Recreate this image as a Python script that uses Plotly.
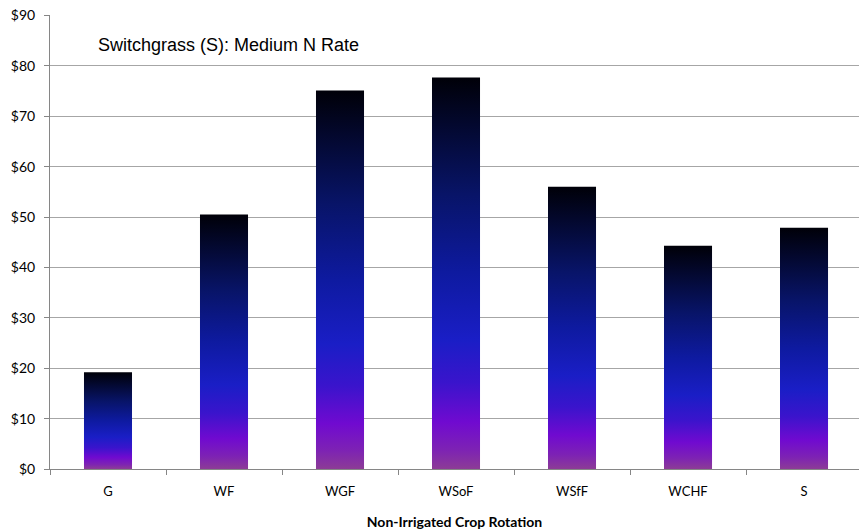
import plotly.graph_objects as go

categories = ["G", "WF", "WGF", "WSoF", "WSfF", "WCHF", "S"]
values = [19.2, 50.5, 75.1, 77.7, 56.0, 44.3, 47.9]
y_ticks = [0, 10, 20, 30, 40, 50, 60, 70, 80, 90]
y_tick_labels = ["$" + str(v) for v in y_ticks]

title_text = "Switchgrass (S): Medium N Rate"
x_title = "Non-Irrigated Crop Rotation"

grad = [[0.0, "#8c3c96"], [0.05, "#7d22b4"], [0.12, "#700ad0"], [0.22, "#3a14cc"],
        [0.33, "#1a1ec6"], [0.5, "#0e1aa0"], [0.7, "#081468"], [0.85, "#040a38"],
        [1.0, "#000008"]]

half = 0.207
fig = go.Figure()
for i, (c, v) in enumerate(zip(categories, values)):
    fig.add_trace(go.Scatter(
        x=[i - half, i + half, i + half, i - half, i - half],
        y=[0, 0, v, v, 0],
        mode="lines", line=dict(width=0), fill="toself",
        fillgradient=dict(type="vertical", colorscale=grad, start=0, stop=v),
        hoverinfo="text", text=f"{c}: ${v}", showlegend=False,
    ))

fig.add_annotation(text=title_text, xref="paper", yref="paper", x=0.0568, y=0.934,
                   xanchor="left", yanchor="middle", showarrow=False,
                   font=dict(family="Liberation Sans, Arial", size=18, color="#000000"))

fig.update_layout(
    width=859, height=530,
    margin=dict(l=50, r=0, t=15, b=61),
    plot_bgcolor="white", paper_bgcolor="white",
    xaxis=dict(
        range=[-0.5, 6.474], tickvals=list(range(len(categories))), ticktext=categories,
        ticks="", showgrid=False, zeroline=False, automargin=False,
        showline=True, linecolor="#868686", linewidth=1, ticklabelstandoff=10,
        tickfont=dict(family="Lato, Carlito, Calibri", size=13, color="#000000"),
        minor=dict(tickvals=[k - 0.5 for k in range(len(categories) + 1)], ticks="outside",
                   ticklen=5, tickcolor="#868686", showgrid=False),
        title=dict(text="<b>" + x_title + "</b>", standoff=20,
                   font=dict(family="Lato, Carlito, Calibri", size=14, color="#000000")),
    ),
    yaxis=dict(
        range=[0, 90.1], tickvals=y_ticks, ticktext=y_tick_labels, automargin=False,
        showgrid=True, gridcolor="#a6a6a6", gridwidth=1, zeroline=False,
        showline=True, linecolor="#868686", linewidth=1, ticklabelstandoff=6,
        ticks="outside", ticklen=5, tickcolor="#868686", ticklabeloverflow="allow",
        tickfont=dict(family="Lato, Carlito, Calibri", size=14, color="#000000"),
    ),
)

fig.write_html("out.html", config={"displayModeBar": False},
               post_script="document.body.style.margin='0';document.body.style.overflow='hidden';")
